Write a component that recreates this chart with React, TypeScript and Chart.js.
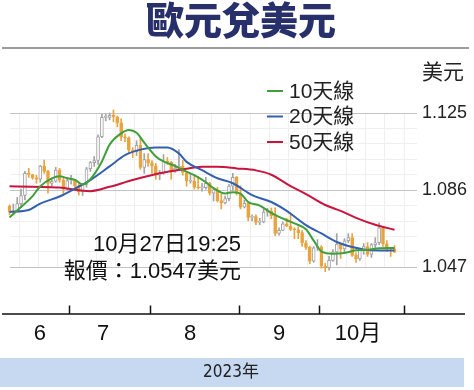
import React, { useEffect, useRef } from 'react';
import { Chart, registerables } from 'chart.js';

Chart.register(...registerables);

// ---- data (EUR/USD daily, 2023-06-09 .. 2023-10-27) ----
const opens = [
  1.0780, 1.0750, 1.0752, 1.0792, 1.0833, 1.0945, 1.0939, 1.0922, 1.0915, 1.0982, 1.0955, 1.0894, 1.0905, 1.0961, 1.0911, 1.0866,
  1.0909, 1.0911, 1.0882, 1.0852, 1.0889, 1.0968, 1.0999, 1.1010, 1.1130, 1.1228, 1.1228, 1.1238, 1.1230, 1.1200, 1.1128, 1.1124, 1.1063, 1.1055, 1.1086, 1.0975, 1.1015,
  1.0998, 1.0983, 1.0936, 1.0946, 1.1007, 1.1002, 1.0955, 1.0972, 1.0981, 1.0949, 1.0905, 1.0905, 1.0875, 1.0872, 1.0872, 1.0895, 1.0845, 1.0862, 1.0807, 1.0796, 1.0817, 1.0880, 1.0925,
  1.0843, 1.0774, 1.0794, 1.0722, 1.0726, 1.0697, 1.0699, 1.0749, 1.0755, 1.0731, 1.0641, 1.0657, 1.0690, 1.0679, 1.0661, 1.0660, 1.0645, 1.0593, 1.0571, 1.0501, 1.0568,
  1.0573, 1.0476, 1.0468, 1.0505, 1.0548, 1.0588, 1.0563, 1.0604, 1.0620, 1.0530, 1.0512, 1.0557, 1.0575, 1.0535, 1.0585, 1.0594, 1.0670, 1.0589, 1.0565, 1.0563,
];
const highs = [
  1.0785, 1.0790, 1.0823, 1.0865, 1.0955, 1.0970, 1.0940, 1.0935, 1.0985, 1.1012, 1.0960, 1.0915, 1.0975, 1.0970, 1.0925, 1.0925,
  1.0935, 1.0915, 1.0895, 1.0895, 1.0975, 1.1005, 1.1030, 1.1140, 1.1245, 1.1245, 1.1250, 1.1265, 1.1235, 1.1220, 1.1145, 1.1130, 1.1075, 1.1110, 1.1125, 1.1045, 1.1045,
  1.1010, 1.0995, 1.0960, 1.1040, 1.1025, 1.1005, 1.0990, 1.1065, 1.1010, 1.0955, 1.0945, 1.0935, 1.0930, 1.0895, 1.0925, 1.0900, 1.0865, 1.0875, 1.0840, 1.0830, 1.0890, 1.0945, 1.0930,
  1.0882, 1.0810, 1.0800, 1.0735, 1.0735, 1.0718, 1.0765, 1.0768, 1.0770, 1.0770, 1.0670, 1.0700, 1.0718, 1.0735, 1.0670, 1.0675, 1.0655, 1.0605, 1.0576, 1.0575, 1.0610,
  1.0580, 1.0490, 1.0525, 1.0560, 1.0640, 1.0590, 1.0615, 1.0640, 1.0640, 1.0545, 1.0565, 1.0590, 1.0595, 1.0590, 1.0620, 1.0695, 1.0675, 1.0605, 1.0570, 1.0580,
];
const lows = [
  1.0735, 1.0735, 1.0750, 1.0772, 1.0810, 1.0925, 1.0915, 1.0895, 1.0900, 1.0945, 1.0845, 1.0880, 1.0900, 1.0900, 1.0835, 1.0862,
  1.0890, 1.0870, 1.0835, 1.0833, 1.0875, 1.0955, 1.0980, 1.0990, 1.1125, 1.1210, 1.1215, 1.1205, 1.1180, 1.1110, 1.1105, 1.1050, 1.1025, 1.1035, 1.0965, 1.0945, 1.0980,
  1.0945, 1.0915, 1.0912, 1.0940, 1.0990, 1.0915, 1.0950, 1.0965, 1.0935, 1.0880, 1.0895, 1.0865, 1.0865, 1.0855, 1.0865, 1.0835, 1.0805, 1.0800, 1.0765, 1.0790, 1.0805, 1.0860, 1.0835,
  1.0765, 1.0770, 1.0705, 1.0705, 1.0685, 1.0685, 1.0695, 1.0728, 1.0715, 1.0630, 1.0632, 1.0655, 1.0675, 1.0655, 1.0615, 1.0615, 1.0575, 1.0560, 1.0488, 1.0495, 1.0555,
  1.0465, 1.0448, 1.0455, 1.0500, 1.0482, 1.0515, 1.0545, 1.0595, 1.0525, 1.0495, 1.0505, 1.0535, 1.0525, 1.0520, 1.0565, 1.0585, 1.0575, 1.0550, 1.0525, 1.0545,
];
const closes = [
  1.0750, 1.0752, 1.0792, 1.0833, 1.0945, 1.0939, 1.0922, 1.0915, 1.0982, 1.0955, 1.0894, 1.0905, 1.0961, 1.0911, 1.0866, 1.0909,
  1.0911, 1.0882, 1.0852, 1.0889, 1.0968, 1.0999, 1.1010, 1.1130, 1.1228, 1.1228, 1.1238, 1.1230, 1.1200, 1.1128, 1.1124, 1.1063, 1.1055, 1.1086, 1.0975, 1.1015, 1.0998,
  1.0983, 1.0936, 1.0946, 1.1007, 1.1002, 1.0955, 1.0972, 1.0981, 1.0949, 1.0905, 1.0905, 1.0875, 1.0872, 1.0872, 1.0895, 1.0845, 1.0862, 1.0807, 1.0796, 1.0817, 1.0880, 1.0925, 1.0843,
  1.0774, 1.0794, 1.0722, 1.0726, 1.0697, 1.0699, 1.0749, 1.0755, 1.0731, 1.0641, 1.0657, 1.0690, 1.0679, 1.0661, 1.0660, 1.0645, 1.0593, 1.0571, 1.0501, 1.0568, 1.0573,
  1.0476, 1.0468, 1.0505, 1.0548, 1.0588, 1.0563, 1.0604, 1.0620, 1.0530, 1.0512, 1.0557, 1.0575, 1.0535, 1.0585, 1.0594, 1.0670, 1.0589, 1.0565, 1.0563, 1.0547,
];

// moving averages (day index -> value)
const ma10Days = [0, 3, 6, 8, 11, 13, 15, 17, 19, 21, 24, 26, 29, 31, 33, 35, 38, 40, 43, 45, 48, 51, 53, 56, 58, 60, 62, 65, 68, 72, 74, 77, 79, 81, 84, 87, 90, 93, 96, 100];
const ma10 = [1.0722, 1.0775, 1.0830, 1.0880, 1.0920, 1.0930, 1.0920, 1.0912, 1.0888, 1.0915, 1.1005, 1.1090, 1.1147, 1.1164, 1.1150, 1.1100, 1.1030, 1.1005, 1.0982, 1.0962, 1.0936, 1.0900, 1.0870, 1.0843, 1.0850, 1.0843, 1.0800, 1.0782, 1.0745, 1.0708, 1.0692, 1.0662, 1.0605, 1.0550, 1.0538, 1.0542, 1.0556, 1.0558, 1.0566, 1.0568];
const ma20Days = [0, 5, 8, 13, 17, 21, 26, 30, 34, 38, 41, 44, 46, 50, 54, 58, 63, 68, 72, 77, 81, 85, 89, 94, 100];
const ma20 = [1.0750, 1.0760, 1.0792, 1.0828, 1.0868, 1.0911, 1.0980, 1.1037, 1.1065, 1.1076, 1.1076, 1.1046, 1.1003, 1.0961, 1.0920, 1.0895, 1.0835, 1.0800, 1.0755, 1.0683, 1.0641, 1.0598, 1.0573, 1.0556, 1.0555];
const ma50Days = [0, 6, 13, 18, 21, 26, 32, 39, 45, 50, 54, 59, 64, 68, 73, 77, 82, 86, 90, 95, 100];
const ma50 = [1.0880, 1.0877, 1.0873, 1.0860, 1.0855, 1.0877, 1.0911, 1.0945, 1.0965, 1.0978, 1.0978, 1.0970, 1.0960, 1.0938, 1.0880, 1.0840, 1.0785, 1.0755, 1.0720, 1.0685, 1.0660];

const seriesLabels = ['10天線', '20天線', '50天線'];
const monthBoundaries = [15.5, 36.5, 59.5, 80.5, 102.5];
const monthLabels = ['6', '7', '8', '9', '10月'];
const monthLabelDays = [7.9, 24.3, 46.9, 70, 90.5];
const yLabelTicks = [1.047, 1.086, 1.125];
const yMinorStep = 0.0078;
const titleText = '歐元兌美元';
const unitText = '美元';
const noteLines = ['10月27日19:25', '報價：1.0547美元'];
const yearText = '2023年';

const UP_EDGE = '#a3a3a3';
const DOWN = '#e8a43f';
const SANS = '"Liberation Sans", "Noto Sans CJK TC", sans-serif';

const overlay = {
  id: 'overlay',
  afterDraw(chart: any) {
    const ctx = chart.ctx as CanvasRenderingContext2D;
    const xs = chart.scales.x;
    ctx.save();
    // title
    ctx.fillStyle = '#27306a';
    ctx.font = '900 38px "Noto Sans CJK TC", sans-serif';
    ctx.textAlign = 'center';
    ctx.textBaseline = 'middle';
    ctx.fillText(titleText, 241, 20);
    ctx.fillStyle = '#9c9c9c';
    ctx.fillRect(2, 47, 467, 2);

    // unit
    ctx.fillStyle = '#222';
    ctx.font = '21px ' + SANS;
    ctx.textAlign = 'left';
    ctx.fillText(unitText, 422, 73);

    // legend
    const lineSets = chart.data.datasets.filter((d: any) => d.type === 'line');
    lineSets.forEach((d: any, i: number) => {
      const y = 91 + i * 25.5;
      ctx.strokeStyle = d.borderColor;
      ctx.lineWidth = 2;
      ctx.beginPath();
      ctx.moveTo(267, y);
      ctx.lineTo(283, y);
      ctx.stroke();
      ctx.fillStyle = '#222';
      ctx.font = '21px ' + SANS;
      ctx.textAlign = 'left';
      ctx.fillText(d.label, 289, y + 1);
    });

    // note
    ctx.fillStyle = '#111';
    ctx.font = '22px ' + SANS;
    ctx.textAlign = 'right';
    ctx.fillText(noteLines[0], 241, 245);
    ctx.fillText(noteLines[1], 241, 272);

    // x axis
    ctx.strokeStyle = '#111';
    ctx.lineWidth = 1.5;
    ctx.beginPath();
    ctx.moveTo(2, 314);
    ctx.lineTo(465, 314);
    ctx.stroke();
    monthBoundaries.forEach((b) => {
      const px = Math.round(xs.getPixelForValue(b)) + 0.5;
      ctx.beginPath();
      ctx.moveTo(px, 305.5);
      ctx.lineTo(px, 314);
      ctx.stroke();
    });
    ctx.font = '22px ' + SANS;
    ctx.textAlign = 'center';
    ctx.fillStyle = '#111';
    monthLabels.forEach((m, i) => {
      ctx.fillText(m, xs.getPixelForValue(monthLabelDays[i]), 334);
    });

    // year band
    ctx.fillStyle = '#c6d9f1';
    ctx.fillRect(0, 358, 464, 29);
    ctx.fillStyle = '#222';
    ctx.font = '17px "Liberation Sans Narrow", "DejaVu Sans Condensed", "Noto Sans CJK TC", sans-serif';
    ctx.textAlign = 'center';
    ctx.fillText(yearText, 231, 373);
    ctx.restore();
  },
};

export default function App() {
  const ref = useRef<HTMLCanvasElement | null>(null);
  useEffect(() => {
    if (!ref.current) return;
    const up = closes.map((c, i) => c >= opens[i]);
    const wick = highs.map((h, i) => ({ x: i, y: [lows[i], h] }));
    const body = closes.map((c, i) => ({ x: i, y: [opens[i], c] }));
    const mk = (days: number[], vals: number[]) => days.map((d, i) => ({ x: d, y: vals[i] }));

    const chart = new Chart(ref.current, {
      type: 'bar',
      data: {
        datasets: [
          {
            type: 'line', label: seriesLabels[0], data: mk(ma10Days, ma10), borderColor: '#3f9f3a',
            borderWidth: 2, pointRadius: 0, cubicInterpolationMode: 'monotone', order: 0, clip: false,
          } as any,
          {
            type: 'line', label: seriesLabels[1], data: mk(ma20Days, ma20), borderColor: '#3560b0',
            borderWidth: 2, pointRadius: 0, cubicInterpolationMode: 'monotone', order: 0, clip: false,
          } as any,
          {
            type: 'line', label: seriesLabels[2], data: mk(ma50Days, ma50), borderColor: '#c8153f',
            borderWidth: 2, pointRadius: 0, cubicInterpolationMode: 'monotone', order: 0, clip: false,
          } as any,
          {
            type: 'bar', label: 'body', data: body as any, grouped: false, barThickness: 3,
            backgroundColor: up.map((u) => (u ? '#ffffff' : DOWN)),
            borderColor: up.map((u) => (u ? UP_EDGE : DOWN)),
            borderWidth: 1, borderSkipped: false, minBarLength: 1, order: 1, clip: false,
          } as any,
          {
            type: 'bar', label: 'wick', data: wick as any, grouped: false, barThickness: 1,
            backgroundColor: up.map((u) => (u ? UP_EDGE : DOWN)),
            borderWidth: 0, order: 2, clip: false,
          } as any,
        ],
      },
      options: {
        animation: false,
        responsive: false,
        devicePixelRatio: 1,
        layout: { padding: { left: 10, top: 113, right: 0, bottom: 122.7 } },
        plugins: { legend: { display: false }, tooltip: { enabled: false } },
        scales: {
          x: {
            type: 'linear',
            min: 0.13,
            max: 105.84,
            offset: false,
            afterBuildTicks: (s: any) => {
              const t = [];
              for (let v = 0; v <= 105; v += 5) t.push({ value: v });
              s.ticks = t;
            },
            afterFit: (s: any) => { s.height = 0; },
            grid: { color: '#efefef', lineWidth: 1, drawTicks: false },
            border: { display: false },
            ticks: { display: false },
          },
          y: {
            type: 'linear',
            position: 'right',
            min: 1.047,
            max: 1.125,
            afterBuildTicks: (s: any) => {
              const t = [];
              for (let k = 0; k <= 10; k++) t.push({ value: 1.047 + k * yMinorStep });
              s.ticks = t;
            },
            afterFit: (s: any) => { s.width = 57; },
            grid: {
              drawTicks: false,
              color: (c: any) => (yLabelTicks.some((m) => Math.abs(m - c.tick.value) < 1e-6) ? '#c4c4c4' : '#efefef'),
              lineWidth: 1,
            },
            border: { display: false },
            ticks: {
              autoSkip: false,
              padding: 5,
              color: '#222',
              font: { family: SANS, size: 18 },
              callback: (v: any) => {
                const m = yLabelTicks.find((t) => Math.abs(t - Number(v)) < 1e-6);
                return m === undefined ? '' : m.toFixed(3);
              },
            },
          },
        },
      } as any,
      plugins: [overlay],
    });
    return () => chart.destroy();
  }, []);

  return (
    <div style={{ position: 'absolute', left: 0, top: 0, width: 474, height: 390, background: '#fff' }}>
      <canvas ref={ref} width={474} height={390} style={{ width: 474, height: 390, display: 'block' }} />
    </div>
  );
}
